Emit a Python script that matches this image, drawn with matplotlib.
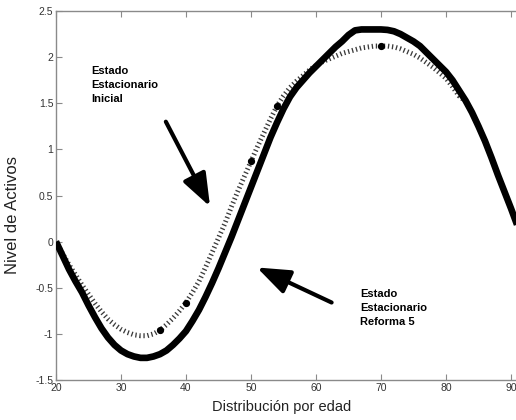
import matplotlib
matplotlib.use("Agg")
import matplotlib.pyplot as plt

plt.rcParams['font.family'] = ['Liberation Sans', 'DejaVu Sans']
plt.rcParams['axes.unicode_minus'] = False

# Age grid (years)
edad = list(range(20, 93))

# Steady state after reform 5 (thick solid line)
activos_reforma5 = [
    0.00, -0.15, -0.30, -0.43, -0.55, -0.69, -0.82, -0.94, -1.04, -1.12,   # 20-29
    -1.18, -1.22, -1.245, -1.26, -1.26, -1.245, -1.22, -1.18, -1.12, -1.05,  # 30-39
    -0.97, -0.86, -0.74, -0.60, -0.45, -0.29, -0.12, 0.05, 0.23, 0.41,     # 40-49
    0.59, 0.77, 0.95, 1.13, 1.29, 1.44, 1.57, 1.67, 1.75, 1.83,            # 50-59
    1.90, 1.97, 2.04, 2.11, 2.17, 2.24, 2.29, 2.30, 2.30, 2.30,            # 60-69
    2.30, 2.295, 2.28, 2.25, 2.21, 2.17, 2.12, 2.05, 1.98, 1.91,           # 70-79
    1.84, 1.75, 1.64, 1.53, 1.40, 1.25, 1.09, 0.91, 0.72, 0.54,            # 80-89
    0.36, 0.17, -0.02]                                                     # 90-92

# Initial steady state (dotted line)
activos_inicial = [
    0.00, -0.13, -0.25, -0.36, -0.47, -0.57, -0.67, -0.76, -0.84, -0.90,   # 20-29
    -0.95, -0.985, -1.01, -1.02, -1.02, -1.00, -0.96, -0.90, -0.83, -0.75,  # 30-39
    -0.66, -0.55, -0.43, -0.28, -0.12, 0.04, 0.20, 0.38, 0.55, 0.71,       # 40-49
    0.87, 1.03, 1.18, 1.33, 1.47, 1.58, 1.67, 1.74, 1.80, 1.86,            # 50-59
    1.91, 1.95, 1.98, 2.01, 2.04, 2.06, 2.08, 2.10, 2.11, 2.12,            # 60-69
    2.12, 2.12, 2.11, 2.09, 2.06, 2.03, 1.99, 1.94, 1.89, 1.83,            # 70-79
    1.77, 1.68, 1.58, 1.52, 1.40, 1.25, 1.09, 0.91, 0.72, 0.54,            # 80-89
    0.36, 0.17, -0.02]                                                     # 90-92

# Highlighted points on the initial profile
edad_puntos = [36, 40, 50, 54, 70]
activos_puntos = [-0.96, -0.66, 0.87, 1.47, 2.12]

xticks = [20, 30, 40, 50, 60, 70, 80, 90]
yticks = [-1.5, -1, -0.5, 0, 0.5, 1, 1.5, 2, 2.5]
yticklabels = ['-1.5', '-1', '-0.5', '0', '0.5', '1', '1.5', '2', '2.5']

fig = plt.figure(figsize=(5.16, 4.20), dpi=100)
ax = fig.add_axes([56 / 516, 40 / 420, 460 / 516, 369 / 420])

ax.plot(edad, activos_inicial, color='#3a3a3a', lw=3.6,
        linestyle=(0, (0.26, 0.55)), dash_capstyle='butt', zorder=2)
ax.plot(edad_puntos, activos_puntos, 'o', color='black', ms=4.2, zorder=3)
ax.plot(edad, activos_reforma5, color='black', lw=4.8,
        solid_capstyle='butt', solid_joinstyle='round', zorder=4)

ax.set_xlim(20, 20 + 460 / 6.5)
ax.set_ylim(-1.5, 2.5)
ax.set_xticks(xticks)
ax.set_yticks(yticks)
ax.set_yticklabels(yticklabels)

gray = '#8a8a8a'
for side in ['left', 'bottom', 'top']:
    ax.spines[side].set_color(gray)
    ax.spines[side].set_linewidth(1.0)
ax.spines['right'].set_visible(False)
ax.tick_params(direction='in', length=4, width=0.8, color=gray,
               labelsize=7.5, labelcolor='#333333', top=True, pad=2)

ax.set_xlabel('Distribución por edad', fontsize=10.5, color='#222222')
ax.set_ylabel('Nivel de Activos', fontsize=12, color='#222222')
ax.xaxis.set_label_coords(0.49, -0.055)
ax.yaxis.set_label_coords(-0.078, 0.447)

arrow_style = dict(arrowstyle='-|>,head_length=2.0,head_width=0.75',
                   color='black', lw=3.0, shrinkA=0, shrinkB=0)
ax.annotate('', xy=(43.7, 0.38), xytext=(36.9, 1.30), arrowprops=arrow_style)
ax.annotate('', xy=(50.9, -0.28), xytext=(62.4, -0.66), arrowprops=arrow_style)

ax.text(25.5, 1.90, 'Estado\nEstacionario\nInicial', fontsize=8,
        fontweight='bold', ha='left', va='top', linespacing=1.5)
ax.text(66.8, -0.51, 'Estado\nEstacionario\nReforma 5', fontsize=8,
        fontweight='bold', ha='left', va='top', linespacing=1.5)

fig.savefig('out.png', dpi=100)
